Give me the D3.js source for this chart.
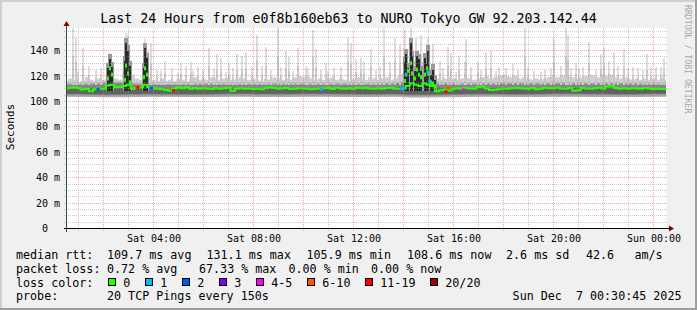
<!DOCTYPE html>
<html>
<head>
<meta charset="UTF-8">
<title>SmokePing - Last 24 Hours</title>
<script src="https://cdn.jsdelivr.net/npm/d3@7"></script>
<style>
  body { margin: 0; background: #f0f0f0; }
  svg text { font-family: "DejaVu Sans Mono", monospace; white-space: pre; }
</style>
</head>
<body>
<svg id="chart" width="697" height="310"></svg>
<script>
// median rtt in ms, one value every 10 minutes starting Sat 00:30
var median = [
  110.2, 110.8, 111.0,
  110.5, 109.4, 109.8, 108.0, 109.6, 110.2,
  110.0, 112.5, 113.0, 111.0, 111.2, 112.0,
  113.0, 110.0, 110.6, 111.0, 113.0, 111.2,
  110.4, 110.0, 109.6, 109.0, 108.4, 110.2,
  111.0, 110.4, 111.2, 110.0, 110.6, 110.0,
  110.4, 110.0, 109.8, 110.6, 110.0, 110.4,
  110.8, 108.2, 110.0, 110.4, 110.0, 110.2,
  109.8, 110.0, 109.6, 110.6, 111.0, 110.6,
  110.0, 110.4, 110.6, 109.8, 110.0, 110.4,
  110.2, 110.0, 109.6, 110.0, 110.2, 110.4,
  110.6, 109.8, 110.8, 110.2, 110.0, 110.4,
  110.0, 110.6, 110.4, 110.8, 110.2, 110.0,
  110.4, 110.0, 110.6, 110.8, 110.2, 110.0,
  110.2, 112.0, 114.0, 113.0, 112.0, 114.0,
  113.0, 112.0, 108.0, 108.8, 109.4, 108.6,
  110.0, 110.4, 110.0, 110.6, 110.2, 110.0,
  111.4, 111.6, 110.2, 109.0, 109.2, 109.6,
  110.2, 110.0, 110.4, 110.6, 110.4, 110.2,
  110.0, 110.6, 109.6, 110.0, 110.8, 110.4,
  110.4, 110.8, 110.2, 110.0, 110.6, 108.4,
  108.8, 110.6, 110.2, 110.0, 110.4, 110.8,
  110.2, 111.8, 112.2, 110.6, 110.0, 110.4,
  110.0, 110.4, 110.2, 110.0, 110.6, 110.2,
  109.8, 110.0, 109.8, 110.0
];
// upper edge of the light smoke, same 10 minute steps
var smokeHi = [
  116, 118, 117, 115, 116, 119, 117, 116, 118,
  117, 120, 126, 118, 117, 124, 128, 121, 118, 117, 125, 119,
  117, 116, 118, 116, 117, 116, 118, 117, 116, 118, 119, 117,
  118, 117, 119, 118, 117, 118, 119, 117, 118, 119, 118, 117,
  118, 117, 116, 118, 117, 119, 118, 117, 118, 117, 119, 120,
  119, 120, 118, 117, 118, 117, 118, 119, 117, 118, 117, 116,
  118, 119, 118, 117, 119, 118, 117, 118, 119, 117, 118, 120,
  122, 130, 138, 132, 128, 131, 126, 122, 118, 117, 118, 119,
  118, 117, 118, 119, 118, 117, 118, 119, 120, 118, 119, 120,
  121, 120, 119, 120, 118, 119, 118, 117, 118, 117, 118, 119,
  120, 119, 120, 121, 120, 119, 118, 119, 120, 121, 120, 119,
  121, 120, 121, 119, 118, 119, 118, 117, 118, 117, 118, 117,
  118, 117, 118, 117
];
// hourly band edges, Sat 00:30 .. Sun 00:30
var smokeLow = [103.6, 103.4, 103.2, 103.5, 103.6, 103.4, 103.5, 103.6, 103.4, 103.5, 103.6, 103.5, 103.4,
                103.6, 103.0, 103.2, 103.5, 103.6, 103.4, 103.5, 103.6, 103.5, 103.4, 103.5, 103.6];
var darkLow = [105.2, 105.0, 104.8, 105.1, 105.2, 105.0, 105.2, 105.3, 105.1, 105.2, 105.3, 105.1, 105.0,
               105.2, 104.6, 104.8, 105.1, 105.2, 105.0, 105.2, 105.3, 105.1, 105.0, 105.2, 105.3];
var darkHigh = [113.0, 113.2, 114.5, 113.0, 112.8, 113.0, 113.2, 113.0, 113.1, 113.3, 113.0, 113.2, 113.0,
                113.4, 116.0, 113.6, 113.2, 113.5, 113.6, 113.4, 113.8, 113.5, 113.6, 113.2, 113.0];
// single slow pings: [hour since Sat 00:00, max rtt]
var spikes = [
  [0.80,158],[0.885,150],[1.0,124],[1.20,142],[1.44,128],[1.72,125],[1.9,126],[2.27,138],[2.92,154],[3.0,152],
  [3.68,149],[3.80,140],[3.92,146],[4.16,125],[4.3,124],[4.47,132],[4.76,126],[5.0,122],[5.09,130],[5.29,128],
  [5.49,131],[5.6,124],[5.77,127],[6.0,125],[6.21,142],[6.41,126],[6.53,137],[6.69,134],[6.9,123],[7.01,130],
  [7.17,126],[7.33,137],[7.53,136],[7.69,138],[7.93,127],[8.13,152],[8.33,128],[8.49,143],[8.7,125],[8.98,158],
  [9.1,127],[9.31,140],[9.44,135],[9.6,124],[9.78,142],[10.11,128],[10.2,126],[10.38,156],[10.51,141],[10.7,125],
  [10.91,130],[11.0,124],[11.24,127],[11.5,127],[11.78,150],[11.89,146],[12.11,133],[12.31,134],[12.44,131],[12.71,141],
  [12.9,125],[13.05,128],[13.24,158],[13.45,131],[13.67,150],[13.85,144],[14.05,156],[14.31,158],[14.51,150],[14.71,152],
  [14.97,150],[15.17,145],[15.45,132],[15.6,126],[15.78,143],[15.91,138],[16.1,123],[16.24,136],[16.45,131],[16.51,149],
  [16.7,127],[16.98,131],[17.1,125],[17.31,138],[17.51,140],[17.7,124],[17.84,127],[18.1,126],[18.38,129],[18.6,125],
  [18.85,158],[19.0,127],[19.24,124],[19.5,123],[19.65,125],[19.9,126],[20.04,149],[20.3,128],[20.51,158],[20.58,152],
  [20.7,126],[20.91,130],[21.04,126],[21.2,127],[21.44,147],[21.7,125],[21.91,137],[22.04,143],[22.24,132],[22.44,138],
  [22.6,128],[22.84,141],[23.0,126],[23.2,127],[23.37,126],[23.6,125],[23.75,137],[23.9,126],[24.11,127],[24.3,127],
  [24.44,134]
];
// dense high-latency bursts: [hour, top rtt, median rtt of that step]
var bursts = [
  [2.20,130,118],[2.27,137,126],[2.33,131,121],[2.85,136,117],[2.92,150,128],[3.00,144,122],[3.05,132,115],
  [3.62,130,119],[3.68,146,126],[3.74,138,121],
  [14.05,135,116],[14.11,141,121],[14.20,130,124],[14.31,150,130],[14.36,140,122],[14.48,128,118],[14.56,140,125],
  [14.64,137,121],[14.72,128,119],[14.85,138,121],[14.93,133,126],[14.99,144,122],[15.09,125,115],[15.17,129,114],
  [15.25,121,112]
];
// steps with packet loss: [hour, lost pings, median rtt]
var lossEvents = [
  [1.78,2,109.5],[3.32,8,111],[3.38,13,111],[3.87,1,110.5],[3.92,2,110.5],[4.80,12,108.5],[10.71,1,109.5],
  [13.91,1,110],[13.99,1,110],[14.11,1,121],[14.97,1,123],[15.05,1,116],[15.71,13,107.5],[15.78,7,110.8],[16.40,4,109]
];
var lossLabels = ["0", "1", "2", "3", "4-5", "6-10", "11-19", "20/20"];
var lossColors = ["#26ff00", "#00b8ff", "#0059ff", "#7e00ff", "#ff00ff", "#ff5500", "#ff0000", "#a10000"];
var yTicks = [0, 20, 40, 60, 80, 100, 120, 140];
var xLabelHours = [4, 8, 12, 16, 20, 24];

//-----------------------------------------
var svg = d3.select("#chart");
var day0 = Date.UTC(2025, 11, 6);
function hr(h) { return new Date(day0 + h * 3600e3); }

var x = d3.scaleUtc()
  .domain([new Date(day0 + 1845e3), new Date(day0 + 86400e3 + 1845e3)])
  .range([66.3, 666.3]);
var y = d3.scaleLinear().domain([0, 140]).range([228.5, 50.5]);
var plotTop = 28, plotLeft = 66.5, plotRight = 666.5, plotBottom = 228.5;

function lossIndex(n) {
  if (n <= 3) return n;
  if (n <= 5) return 4;
  if (n <= 10) return 5;
  if (n <= 19) return 6;
  return 7;
}

// frame
svg.append("rect").attr("width", 697).attr("height", 310).attr("fill", "#f0f0f0");
svg.append("path").attr("d", "M0,0H697V2H2V310H0Z").attr("fill", "#cfcfcf");
svg.append("path").attr("d", "M697,0V310H0V308H695V0Z").attr("fill", "#9e9e9e");
svg.append("rect").attr("x", plotLeft).attr("y", plotTop)
  .attr("width", plotRight - plotLeft).attr("height", plotBottom - plotTop)
  .attr("fill", "#ffffff");

svg.append("clipPath").attr("id", "plot")
  .append("rect").attr("x", plotLeft + 0.5).attr("y", plotTop)
  .attr("width", plotRight - plotLeft - 0.5).attr("height", plotBottom - plotTop);
var plot = svg.append("g").attr("clip-path", "url(#plot)");

// smoke bands
var hourly = d3.range(25).map(function (i) { return 0.5 + i; });
var tenMin = median.map(function (d, i) { return 0.5 + i / 6; });

function band(data, fill, curve) {
  plot.append("path")
    .datum(data)
    .attr("fill", fill)
    .attr("d", d3.area().curve(curve)
      .x(function (d) { return x(hr(d.t)); })
      .y0(function (d) { return y(d.lo); })
      .y1(function (d) { return y(d.hi); }));
}
band(tenMin.map(function (t, i) { return { t: t, lo: 103.6, hi: smokeHi[i] }; }), "#cfcfcf", d3.curveStep);
band(hourly.map(function (t, i) { return { t: t, lo: smokeLow[i], hi: darkHigh[i] + 1 }; }), "#ababab", d3.curveMonotoneX);
band(hourly.map(function (t, i) { return { t: t, lo: darkLow[i], hi: darkHigh[i] }; }), "#858585", d3.curveMonotoneX);
band(hourly.map(function (t, i) { return { t: t, lo: darkLow[i] + 0.8, hi: darkHigh[i] - 3 }; }), "#626262", d3.curveMonotoneX);

// slow ping spikes
var sp = plot.append("g").attr("shape-rendering", "crispEdges");
sp.selectAll(".spk").data(spikes).enter().append("rect")
  .attr("x", function (d) { return Math.round(x(hr(d[0]))) - 1; })
  .attr("width", 2)
  .attr("y", function (d) { return y(d[1]); })
  .attr("height", function (d) { return y(113) - y(d[1]); })
  .attr("fill", "#dedede");
sp.selectAll(".spk2").data(spikes).enter().append("rect")
  .attr("x", function (d) { return Math.round(x(hr(d[0]))) - 1; })
  .attr("width", 2)
  .attr("y", function (d) { return y((d[1] + 113) / 2); })
  .attr("height", function (d) { return y(113) - y((d[1] + 113) / 2); })
  .attr("fill", "#c8c8c8");

sp.selectAll(".bst").data(bursts).enter().append("rect")
  .attr("x", function (d) { return Math.round(x(hr(d[0]))) - 2; })
  .attr("width", 4)
  .attr("y", function (d) { return y(d[1]); })
  .attr("height", function (d) { return y(108) - y(d[1]); })
  .attr("fill", "#9a9a9a");
sp.selectAll(".bst2").data(bursts).enter().append("rect")
  .attr("x", function (d) { return Math.round(x(hr(d[0]))) - 1; })
  .attr("width", 2)
  .attr("y", function (d) { return y(d[1] - 4); })
  .attr("height", function (d) { return y(108) - y(d[1] - 4); })
  .attr("fill", "#2a2a2a");

// grid
var grid = svg.append("g").attr("shape-rendering", "crispEdges").attr("stroke-dasharray", "1,1");
var vMax = y.invert(plotTop);
d3.range(5, vMax, 5).forEach(function (v) {
  var yy = Math.floor(y(v)) + 0.5;
  grid.append("line").attr("x1", plotLeft - 3).attr("x2", plotRight).attr("y1", yy).attr("y2", yy)
    .attr("stroke", v % 20 === 0 ? "rgba(230,110,110,0.6)" : "rgba(140,140,140,0.45)");
});
d3.range(1, 25).forEach(function (h) {
  var xx = Math.floor(x(hr(h))) + 0.5;
  grid.append("line").attr("x1", xx).attr("x2", xx).attr("y1", plotTop).attr("y2", plotBottom + 3)
    .attr("stroke", h % 2 === 0 ? "rgba(230,110,110,0.6)" : "rgba(140,140,140,0.45)");
});

// median line with loss colours
var top2 = svg.append("g").attr("clip-path", "url(#plot)");
top2.append("path")
  .datum(median)
  .attr("fill", "none")
  .attr("stroke", lossColors[0])
  .attr("stroke-width", 2)
  .attr("d", d3.line().curve(d3.curveStep)
    .x(function (d, i) { return x(hr(tenMin[i])); })
    .y(function (d) { return y(d); }));

top2.selectAll(".bm").data(bursts).enter().append("rect")
  .attr("x", function (d) { return Math.round(x(hr(d[0]))) - 1; })
  .attr("y", function (d) { return y(d[2]) - 2; })
  .attr("width", 2).attr("height", 4)
  .attr("fill", lossColors[0]);

top2.selectAll(".loss").data(lossEvents).enter().append("rect")
  .attr("x", function (d) { return x(hr(d[0])) - 1.5; })
  .attr("y", function (d) { return y(d[2]) - 1.5; })
  .attr("width", 3).attr("height", 3)
  .attr("fill", function (d) { return lossColors[lossIndex(d[1])]; });

// axes
svg.append("line").attr("x1", plotLeft).attr("x2", plotLeft).attr("y1", plotBottom + 3).attr("y2", 25)
  .attr("stroke", "#2c4d43").attr("shape-rendering", "crispEdges");
svg.append("line").attr("x1", plotLeft - 3).attr("x2", 670).attr("y1", plotBottom).attr("y2", plotBottom)
  .attr("stroke", "#000000").attr("shape-rendering", "crispEdges");
svg.append("path").attr("d", "M63.5,26L66.5,21L69.5,26Z").attr("fill", "#7f0000");
svg.append("path").attr("d", "M669,225.5L674,228.5L669,231.5Z").attr("fill", "#7f0000");

var xAxis = svg.append("g").attr("transform", "translate(0," + plotBottom + ")")
  .call(d3.axisBottom(x).tickValues(xLabelHours.map(hr)).tickSize(0).tickPadding(6)
    .tickFormat(d3.utcFormat("%a %H:%M")));
xAxis.select(".domain").remove();
xAxis.selectAll("text").attr("font-size", "10px").attr("fill", "#000")
  .style("font-family", "DejaVu Sans Mono");

var yAxis = svg.append("g").attr("transform", "translate(" + plotLeft + ",0)")
  .call(d3.axisLeft(y).tickValues(yTicks).tickSize(0).tickPadding(6.5)
    .tickFormat(function (v) { return v === 0 ? "0  " : v + " m"; }));
yAxis.select(".domain").remove();
yAxis.selectAll("text").attr("font-size", "10px").attr("fill", "#000")
  .style("font-family", "DejaVu Sans Mono");

// titles
svg.append("text").attr("x", 348.5).attr("y", 23.3).attr("text-anchor", "middle")
  .attr("font-size", "13.3px").text("Last 24 Hours from e0f8b160eb63 to NURO Tokyo GW 92.203.142.44");
svg.append("text").attr("transform", "translate(14,127) rotate(-90)").attr("text-anchor", "middle")
  .attr("font-size", "11px").text("Seconds");
svg.append("text").attr("transform", "translate(685,5) rotate(90)")
  .attr("font-size", "8.2px").attr("fill", "#a8a8a8").text("RRDTOOL / TOBI OETIKER");

// legend
var rows = [259, 272.8, 286.6, 300.4];
var legend = svg.append("g").attr("font-size", "11.7px").attr("fill", "#000");
function put(xx, row, s) { legend.append("text").attr("x", xx).attr("y", rows[row]).text(s); }
put(16, 0, "median rtt:");
put(107, 0, "109.7 ms avg");
put(206.5, 0, "131.1 ms max");
put(306.5, 0, "105.9 ms min");
put(407, 0, "108.6 ms now");
put(506, 0, "2.6 ms sd");
put(586, 0, "42.6");
put(634.5, 0, "am/s");
put(16, 1, "packet loss:");
put(107, 1, "0.72 % avg");
put(199, 1, "67.33 % max");
put(288.5, 1, "0.00 % min");
put(371, 1, "0.00 % now");
put(16, 2, "loss color:");
put(16, 3, "probe:");
put(107, 3, "20 TCP Pings every 150s");
put(512.6, 3, "Sun Dec  7 00:30:45 2025");

var boxX = [108.5, 145.5, 182.5, 219.5, 256.5, 307.5, 365.5, 430.5];
lossLabels.forEach(function (lab, i) {
  legend.append("rect").attr("x", boxX[i]).attr("y", 278.5).attr("width", 7).attr("height", 7)
    .attr("fill", lossColors[i]).attr("stroke", "#000").attr("shape-rendering", "crispEdges");
  put(boxX[i] + 14.8, 2, lab);
});
</script>
</body>
</html>
